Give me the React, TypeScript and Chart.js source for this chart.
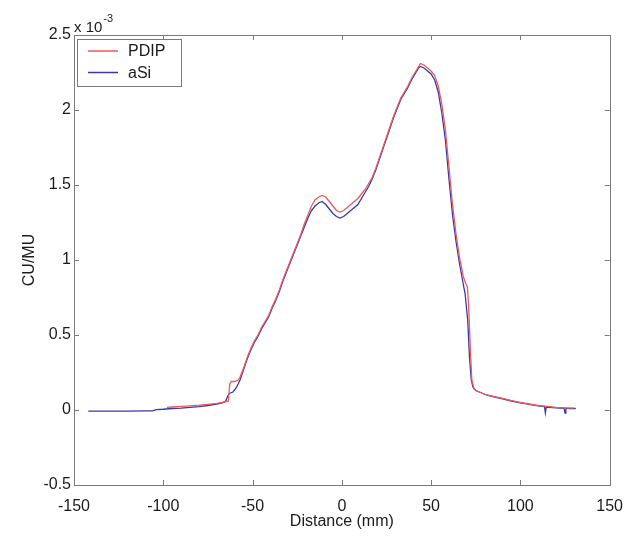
import React, { useEffect, useRef } from "react";
import { Chart, registerables } from "chart.js";

Chart.register(...registerables);

const xTicks = [-150, -100, -50, 0, 50, 100, 150];
const yTicks = [-0.5, 0, 0.5, 1, 1.5, 2, 2.5];

const seriesNames = ["PDIP", "aSi"];

const pdipX = [
  -98, -95, -90, -85, -80, -75, -70, -67, -65, -63.5, -62.8, -62, -60, -58, -57, -55, -53, -51, -49, -47,
  -45, -43, -41, -39, -37, -35, -33, -31, -29, -27, -25, -23, -21, -19, -17, -15, -13, -11, -9, -7,
  -5, -3, -1, 1, 3, 5, 7, 9, 11, 13, 15, 17, 19, 21, 23, 25, 27, 29, 31, 33,
  35, 37, 39, 41, 43, 44, 46, 48, 50, 52, 54, 56, 58, 60, 62, 64, 66, 68, 69.5, 70.3,
  71, 72, 72.8, 74, 76, 78, 81, 85, 90, 95, 100, 105, 110, 115, 120, 125, 130,
];
const pdipY = [
  0.017, 0.02, 0.024, 0.028, 0.032, 0.038, 0.044, 0.05, 0.055, 0.06, 0.17, 0.19, 0.19, 0.2, 0.22, 0.28, 0.35, 0.41, 0.46, 0.5,
  0.55, 0.59, 0.63, 0.69, 0.74, 0.8, 0.87, 0.93, 0.99, 1.05, 1.11, 1.17, 1.24, 1.3, 1.36, 1.4, 1.42, 1.43, 1.42, 1.39,
  1.36, 1.33, 1.32, 1.33, 1.35, 1.37, 1.39, 1.41, 1.44, 1.47, 1.51, 1.55, 1.61, 1.68, 1.75, 1.82, 1.89, 1.96, 2.02, 2.08,
  2.12, 2.16, 2.21, 2.25, 2.29, 2.31, 2.3, 2.28, 2.26, 2.23, 2.16, 2.04, 1.87, 1.62, 1.37, 1.17, 1.01, 0.89, 0.84, 0.82,
  0.7, 0.4, 0.2, 0.14, 0.125, 0.115, 0.1, 0.09, 0.077, 0.062, 0.05, 0.04, 0.03, 0.024, 0.018, 0.014, 0.012,
];

const asiX = [
  -142, -130, -120, -110, -106, -104, -100, -95, -90, -85, -80, -75, -70, -67, -65, -64, -63, -61, -59, -57,
  -55, -53, -51, -49, -47, -45, -43, -41, -39, -37, -35, -33, -31, -29, -27, -25, -23, -21, -19, -17,
  -15, -13, -11, -9, -7, -5, -3, -1, 1, 3, 5, 7, 9, 11, 13, 15, 17, 19, 21, 23,
  25, 27, 29, 31, 33, 35, 37, 39, 41, 43, 44, 46, 48, 50, 52, 54, 56, 58, 60, 62,
  64, 66, 68.3, 69, 70.5, 71.5, 72.5, 73.5, 75, 78, 81, 85, 90, 95, 100, 105, 110, 113.5, 114, 114.5,
  118, 122, 124.5, 125, 125.5, 128, 131,
];
const asiY = [
  -0.008, -0.008, -0.007, -0.006, -0.006, 0.003, 0.005, 0.01, 0.013, 0.018, 0.022, 0.03, 0.04, 0.048, 0.06, 0.09, 0.11, 0.12, 0.15, 0.2,
  0.27, 0.34, 0.4, 0.45, 0.49, 0.54, 0.58, 0.62, 0.68, 0.73, 0.79, 0.86, 0.92, 0.98, 1.04, 1.1, 1.16, 1.22, 1.28, 1.33,
  1.36, 1.38, 1.39, 1.37, 1.34, 1.31, 1.29, 1.28, 1.29, 1.31, 1.33, 1.35, 1.37, 1.41, 1.45, 1.49, 1.54, 1.6, 1.67, 1.74,
  1.81, 1.88, 1.95, 2.01, 2.07, 2.11, 2.15, 2.2, 2.24, 2.28, 2.29, 2.28, 2.26, 2.24, 2.2, 2.12, 1.98, 1.8, 1.54, 1.3,
  1.12, 0.97, 0.82, 0.78, 0.6, 0.35, 0.2, 0.15, 0.13, 0.115, 0.1, 0.088, 0.075, 0.06, 0.048, 0.038, 0.028, 0.022, -0.02, 0.02,
  0.016, 0.013, 0.012, -0.02, 0.012, 0.01, 0.01,
];

const xTitle = "Distance (mm)";
const yTitle = "CU/MU";

const W = 635;
const H = 541;
const AREA = { left: 74, right: 611, top: 35, bottom: 485 };
const FONT = "Liberation Sans, Arial, sans-serif";
const TEXT = "#1a1a1a";
const AXIS = "#7a7a7a";
const RED = "#ec5a5a";
const BLUE = "#3838a8";

const decorPlugin = {
  id: "decor",
  afterDraw(chart: any) {
    const ctx = chart.ctx;
    const { left, right, top, bottom } = chart.chartArea;
    const xs = chart.scales.x;
    const ys = chart.scales.y;
    ctx.save();
    // box
    ctx.strokeStyle = AXIS;
    ctx.lineWidth = 1;
    ctx.strokeRect(Math.round(left) + 0.5, Math.round(top) + 0.5, Math.round(right - left), Math.round(bottom - top));
    // inward ticks
    const tl = 5;
    ctx.beginPath();
    xTicks.forEach((v) => {
      const px = Math.round(xs.getPixelForValue(v)) + 0.5;
      ctx.moveTo(px, bottom);
      ctx.lineTo(px, bottom - tl);
      ctx.moveTo(px, top);
      ctx.lineTo(px, top + tl);
    });
    yTicks.forEach((v) => {
      const py = Math.round(ys.getPixelForValue(v)) + 0.5;
      ctx.moveTo(left, py);
      ctx.lineTo(left + tl, py);
      ctx.moveTo(right, py);
      ctx.lineTo(right - tl, py);
    });
    ctx.stroke();

    // exponent label
    ctx.fillStyle = TEXT;
    ctx.textAlign = "left";
    ctx.textBaseline = "alphabetic";
    ctx.font = `15px ${FONT}`;
    ctx.fillText("x 10", left, top - 3);
    const w = ctx.measureText("x 10").width;
    ctx.font = `11px ${FONT}`;
    ctx.fillText("-3", left + w + 1, top - 13);

    // axis titles
    ctx.font = `16px ${FONT}`;
    ctx.textAlign = "center";
    ctx.textBaseline = "middle";
    ctx.fillText(xTitle, (left + right) / 2, 522);
    ctx.save();
    ctx.translate(30, (top + bottom) / 2);
    ctx.rotate(-Math.PI / 2);
    ctx.fillText(yTitle, 0, 0);
    ctx.restore();

    // legend
    const lx = left + 3;
    const ly = top + 4;
    const lw = 104;
    const lh = 47;
    ctx.fillStyle = "#ffffff";
    ctx.fillRect(lx, ly, lw, lh);
    ctx.strokeStyle = AXIS;
    ctx.strokeRect(Math.round(lx) + 0.5, Math.round(ly) + 0.5, lw, lh);
    const colors = [RED, BLUE];
    seriesNames.forEach((name, i) => {
      const yy = ly + 12 + i * 21.5;
      ctx.strokeStyle = colors[i];
      ctx.lineWidth = 1.5;
      ctx.beginPath();
      ctx.moveTo(lx + 11, yy);
      ctx.lineTo(lx + 41, yy);
      ctx.stroke();
      ctx.fillStyle = TEXT;
      ctx.font = `16px ${FONT}`;
      ctx.textAlign = "left";
      ctx.textBaseline = "middle";
      ctx.fillText(name, lx + 51, yy + 1);
    });
    ctx.restore();
  },
};

export default function App() {
  const ref = useRef<HTMLCanvasElement | null>(null);
  useEffect(() => {
    if (!ref.current) return;
    const chart = new Chart(ref.current, {
      type: "scatter",
      data: {
        datasets: [
          {
            label: seriesNames[0],
            data: pdipX.map((x, i) => ({ x, y: pdipY[i] })),
            showLine: true,
            borderColor: RED,
            backgroundColor: RED,
            borderWidth: 1.3,
            pointRadius: 0,
            tension: 0,
          },
          {
            label: seriesNames[1],
            data: asiX.map((x, i) => ({ x, y: asiY[i] })),
            showLine: true,
            borderColor: BLUE,
            backgroundColor: BLUE,
            borderWidth: 1.3,
            pointRadius: 0,
            tension: 0,
          },
        ],
      },
      options: {
        responsive: false,
        animation: false,
        layout: { padding: { left: 0, top: AREA.top, right: W - AREA.right, bottom: 0 } },
        plugins: { legend: { display: false }, tooltip: { enabled: false }, title: { display: false } },
        scales: {
          x: {
            type: "linear",
            min: -150,
            max: 150,
            afterBuildTicks: (s: any) => {
              s.ticks = xTicks.map((v) => ({ value: v }));
            },
            ticks: { font: { family: FONT, size: 16 }, color: TEXT, padding: 12, maxRotation: 0 },
            grid: { display: false, drawTicks: false },
            border: { display: false },
            afterFit: (s: any) => {
              s.height = H - AREA.bottom;
            },
          },
          y: {
            type: "linear",
            min: -0.5,
            max: 2.5,
            afterBuildTicks: (s: any) => {
              s.ticks = yTicks.map((v) => ({ value: v }));
            },
            ticks: {
              font: { family: FONT, size: 16 },
              color: TEXT,
              padding: 3,
              callback: (v: any) => String(Math.round(Number(v) * 10) / 10),
            },
            grid: { display: false, drawTicks: false },
            border: { display: false },
            afterFit: (s: any) => {
              s.width = AREA.left;
            },
          },
        },
      },
      plugins: [decorPlugin],
    });
    return () => chart.destroy();
  }, []);
  return (
    <div style={{ position: "fixed", left: 0, top: 0, width: W, height: H, background: "#fff" }}>
      <canvas ref={ref} width={W} height={H} style={{ width: W, height: H, display: "block" }} />
    </div>
  );
}
